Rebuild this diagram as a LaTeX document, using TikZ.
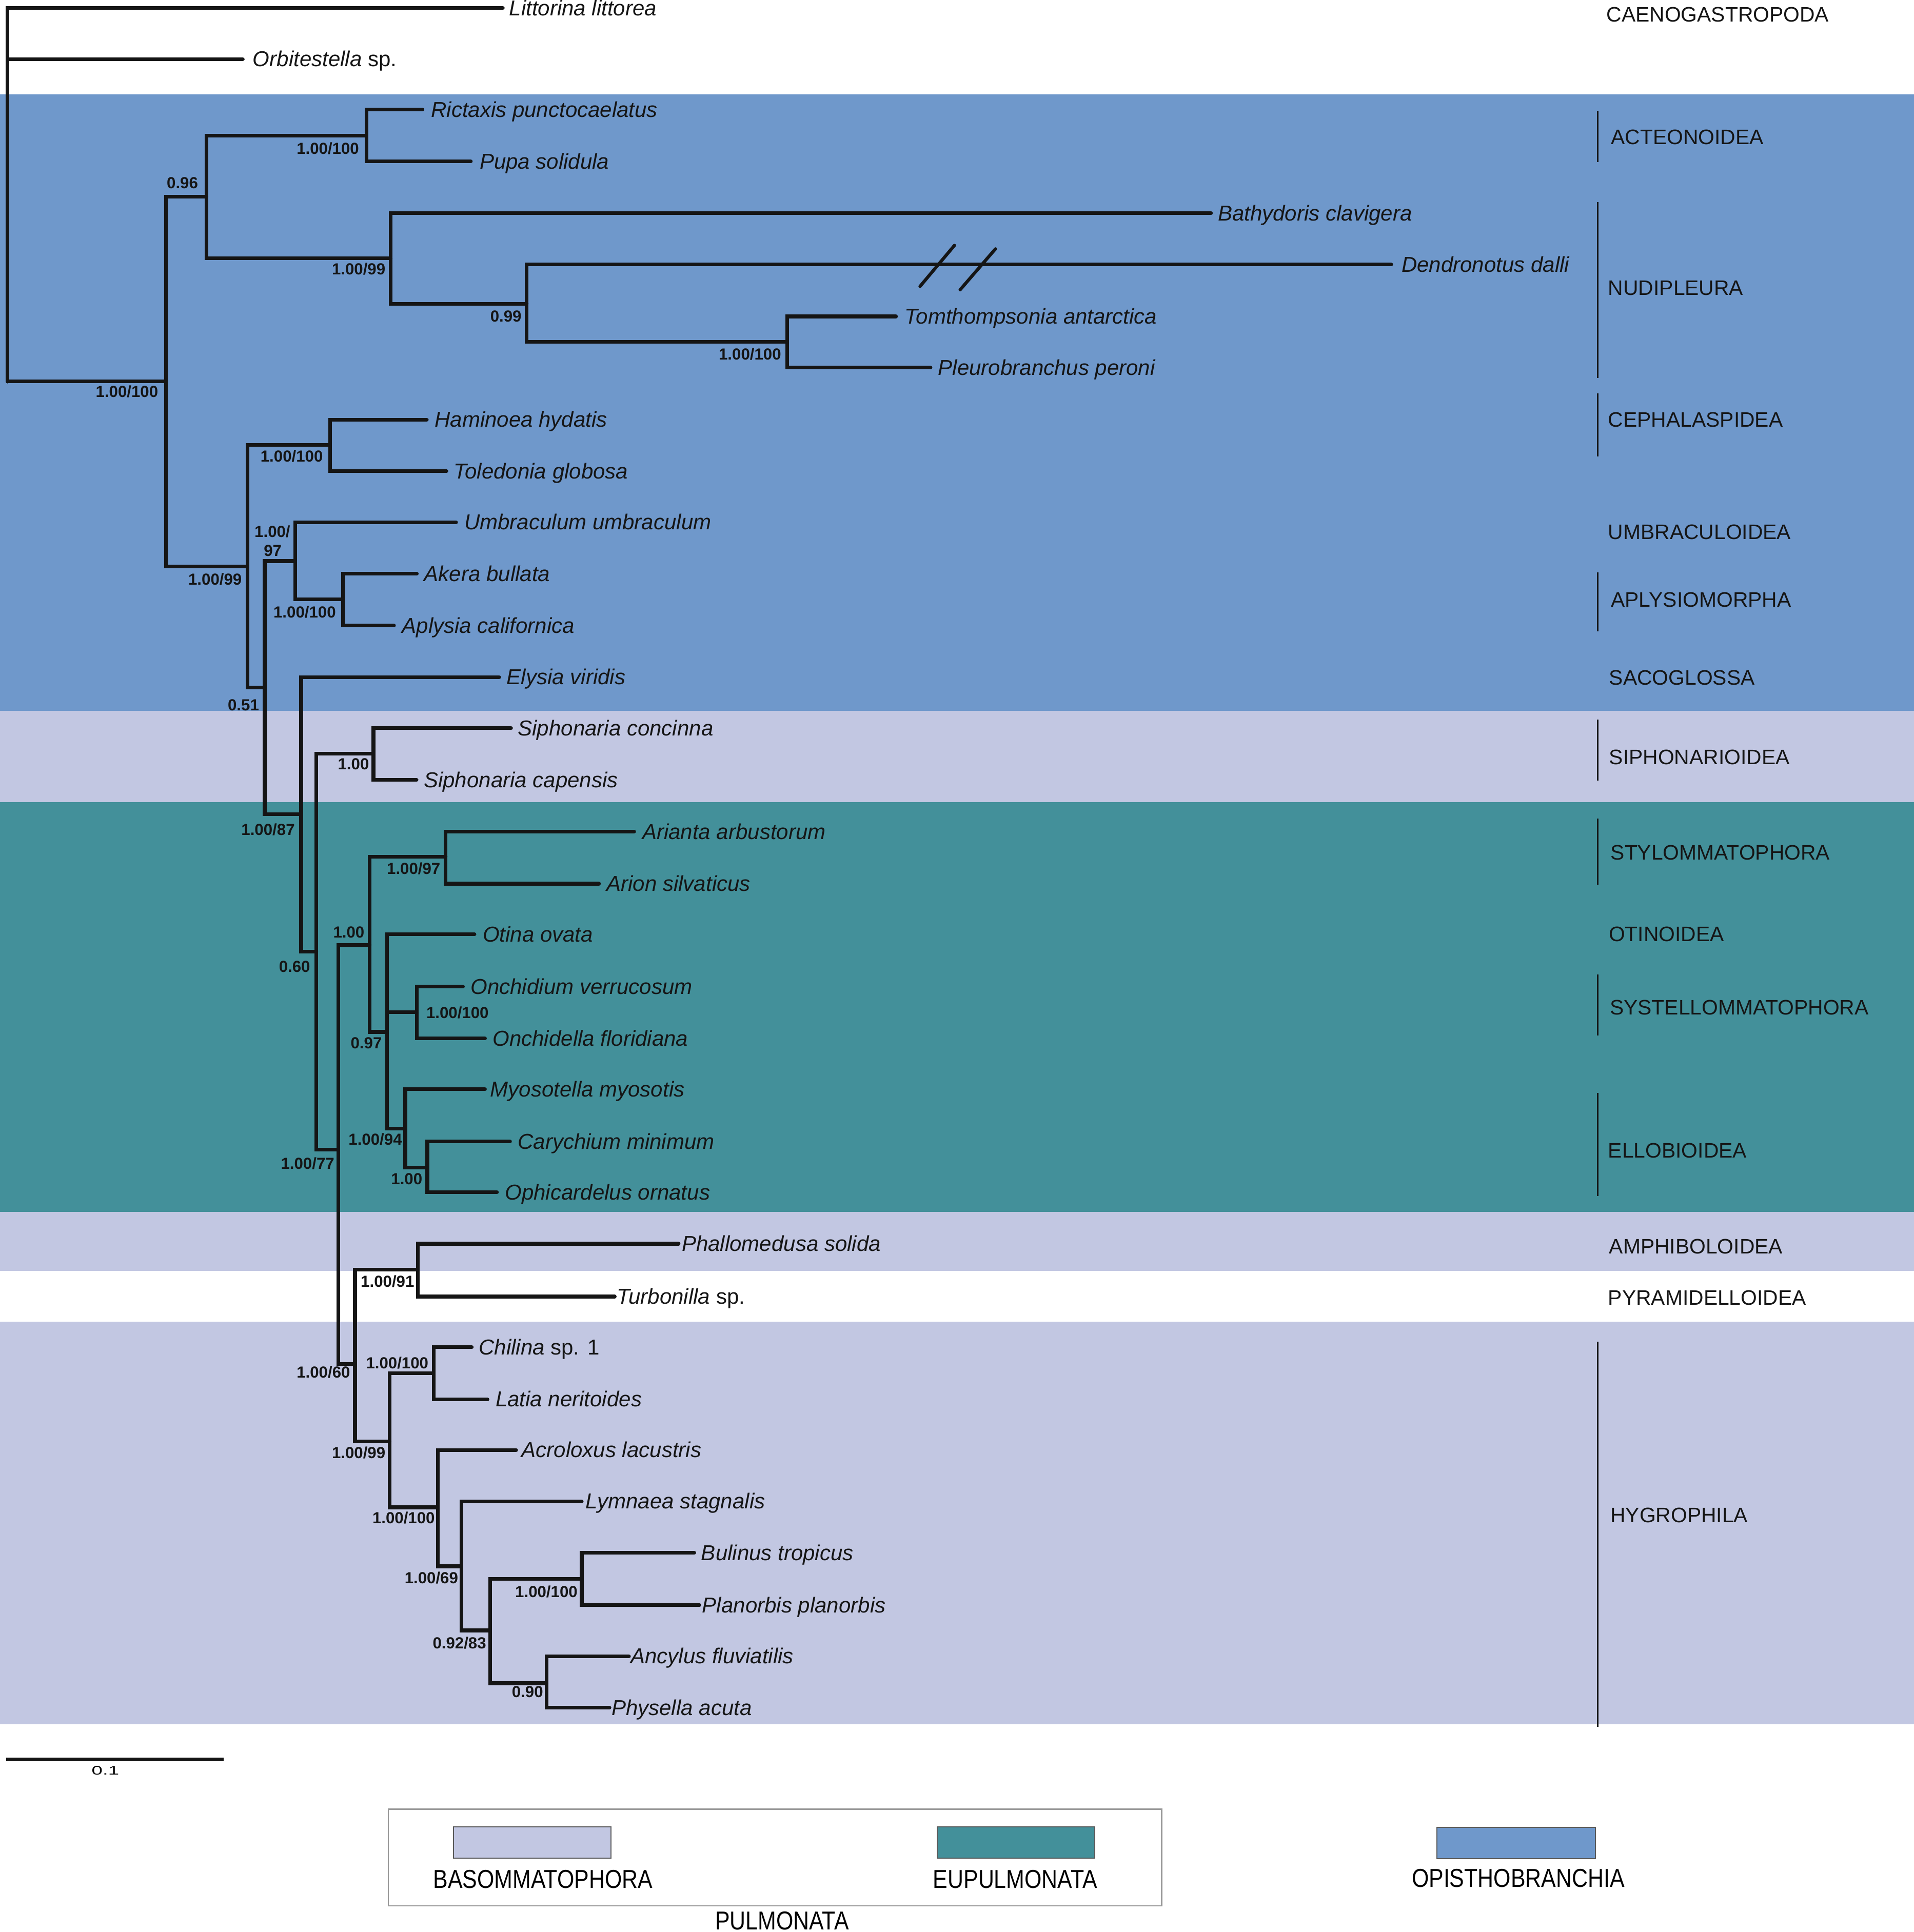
\documentclass[tikz,border=0pt]{standalone}
\usepackage{fontspec}
\usepackage{graphicx}
\setmainfont{Liberation Sans}
\newfontfamily\legfont[FakeStretch=0.85]{Liberation Sans}
\definecolor{opisblue}{HTML}{6F98CB}
\definecolor{eupteal}{HTML}{43909A}
\definecolor{basolav}{HTML}{C2C7E2}
\definecolor{treeblack}{HTML}{151515}
\begin{document}
\begin{tikzpicture}[x=1pt,y=-1pt,
  br/.style={line width=3pt,draw=treeblack,line cap=round,line join=miter},
  spn/.style={anchor=base west,inner sep=0pt,text=treeblack,font=\fontsize{17.5}{18}\selectfont\itshape},
  suppval/.style={anchor=center,inner sep=0pt,text=treeblack,font=\fontsize{13}{13}\selectfont\bfseries},
  cladelab/.style={anchor=base west,inner sep=0pt,text=treeblack,font=\fontsize{17}{18}\selectfont},
  bracket/.style={line width=1.6pt,draw=treeblack},
  leglab/.style={anchor=base,inner sep=0pt,text=black,font=\fontsize{21}{22}\legfont},
  swatch/.style={draw=gray!70!black,line width=0.8pt}]
\useasboundingbox (0,0) rectangle (1553,1568);
\fill[white] (0,0) rectangle (1553,1568);
% bands
\fill[opisblue] (0,76.5) rectangle (1553,577);
\fill[basolav] (0,577) rectangle (1553,651);
\fill[eupteal] (0,651) rectangle (1553,983.5);
\fill[basolav] (0,983.5) rectangle (1553,1031.5);
\fill[basolav] (0,1072.5) rectangle (1553,1399.5);

% internal nodes
\coordinate (root) at (6.2,309.6);
\coordinate (nA) at (134.5,309.6);
\coordinate (nB) at (167.5,159.5);
\coordinate (nC) at (297.3,110);
\coordinate (nD) at (317,209.6);
\coordinate (nE) at (427.4,246.5);
\coordinate (nF) at (638.6,277.5);
\coordinate (nG) at (200.7,459.7);
\coordinate (nH) at (267.7,361);
\coordinate (nI) at (214.8,558);
\coordinate (nJ) at (239.4,455.4);
\coordinate (nK) at (278.5,486.5);
\coordinate (nL) at (244.3,660.9);
\coordinate (nM) at (256.6,772.4);
\coordinate (nN) at (303,611.7);
\coordinate (nO) at (274.4,933);
\coordinate (nP) at (300,767);
\coordinate (nQ) at (361.6,695.3);
\coordinate (nR) at (314,837.5);
\coordinate (nS) at (338.2,821.5);
\coordinate (nT) at (328.8,915.8);
\coordinate (nU) at (346.7,947.7);
\coordinate (nV) at (288,1107);
\coordinate (nW) at (339,1030.5);
\coordinate (nX) at (316.1,1170);
\coordinate (nY) at (351.8,1114.5);
\coordinate (nZ) at (355.2,1223.3);
\coordinate (nAA) at (374.3,1271.2);
\coordinate (nAB) at (397.6,1323.2);
\coordinate (nAC) at (472,1281.3);
\coordinate (nAD) at (443.5,1366.1);

% leaf tips
\coordinate (tLit) at (408,6.5);
\coordinate (tOrb) at (197,48);
\coordinate (tRic) at (342.7,89);
\coordinate (tPup) at (382,131);
\coordinate (tBat) at (982.6,173);
\coordinate (tDen) at (1128.8,214.7);
\coordinate (tTom) at (727,256.8);
\coordinate (tPle) at (755,298.4);
\coordinate (tHam) at (346.3,340.6);
\coordinate (tTol) at (362.2,382.4);
\coordinate (tUmb) at (370,423.8);
\coordinate (tAke) at (338.2,465.7);
\coordinate (tApl) at (319.6,507.7);
\coordinate (tEly) at (405,549.5);
\coordinate (tSco) at (414.7,591);
\coordinate (tSca) at (338,633);
\coordinate (tAri) at (514.5,675);
\coordinate (tAro) at (486,717.2);
\coordinate (tOti) at (385,758.3);
\coordinate (tOnv) at (375.6,800.8);
\coordinate (tOnf) at (393.5,842.8);
\coordinate (tMyo) at (393.5,884);
\coordinate (tCar) at (413.8,926.4);
\coordinate (tOph) at (403.2,967.6);
\coordinate (tPha) at (550.6,1009.4);
\coordinate (tTur) at (498.8,1052.3);
\coordinate (tChi) at (382.8,1093.4);
\coordinate (tLat) at (395.5,1135.7);
\coordinate (tAcr) at (418.8,1176.8);
\coordinate (tLym) at (472,1218.4);
\coordinate (tBul) at (563.3,1260.3);
\coordinate (tPla) at (567.5,1302.7);
\coordinate (tAnc) at (510.3,1344.2);
\coordinate (tPhy) at (494.5,1386);

% branches
\draw[br] (root) |- (tLit);
\draw[br] (root) |- (tOrb);
\draw[br] (root) |- (nA);
\draw[br] (nA) |- (nB);
\draw[br] (nA) |- (nG);
\draw[br] (nB) |- (nC);
\draw[br] (nB) |- (nD);
\draw[br] (nC) |- (tRic);
\draw[br] (nC) |- (tPup);
\draw[br] (nD) |- (tBat);
\draw[br] (nD) |- (nE);
\draw[br] (nE) |- (tDen);
\draw[br] (nE) |- (nF);
\draw[br] (nF) |- (tTom);
\draw[br] (nF) |- (tPle);
\draw[br] (nG) |- (nH);
\draw[br] (nG) |- (nI);
\draw[br] (nH) |- (tHam);
\draw[br] (nH) |- (tTol);
\draw[br] (nI) |- (nJ);
\draw[br] (nI) |- (nL);
\draw[br] (nJ) |- (tUmb);
\draw[br] (nJ) |- (nK);
\draw[br] (nK) |- (tAke);
\draw[br] (nK) |- (tApl);
\draw[br] (nL) |- (tEly);
\draw[br] (nL) |- (nM);
\draw[br] (nM) |- (nN);
\draw[br] (nM) |- (nO);
\draw[br] (nN) |- (tSco);
\draw[br] (nN) |- (tSca);
\draw[br] (nO) |- (nP);
\draw[br] (nO) |- (nV);
\draw[br] (nP) |- (nQ);
\draw[br] (nP) |- (nR);
\draw[br] (nQ) |- (tAri);
\draw[br] (nQ) |- (tAro);
\draw[br] (nR) |- (tOti);
\draw[br] (nR) |- (nS);
\draw[br] (nR) |- (nT);
\draw[br] (nS) |- (tOnv);
\draw[br] (nS) |- (tOnf);
\draw[br] (nT) |- (tMyo);
\draw[br] (nT) |- (nU);
\draw[br] (nU) |- (tCar);
\draw[br] (nU) |- (tOph);
\draw[br] (nV) |- (nW);
\draw[br] (nV) |- (nX);
\draw[br] (nW) |- (tPha);
\draw[br] (nW) |- (tTur);
\draw[br] (nX) |- (nY);
\draw[br] (nX) |- (nZ);
\draw[br] (nY) |- (tChi);
\draw[br] (nY) |- (tLat);
\draw[br] (nZ) |- (tAcr);
\draw[br] (nZ) |- (nAA);
\draw[br] (nAA) |- (tLym);
\draw[br] (nAA) |- (nAB);
\draw[br] (nAB) |- (nAC);
\draw[br] (nAB) |- (nAD);
\draw[br] (nAC) |- (tBul);
\draw[br] (nAC) |- (tPla);
\draw[br] (nAD) |- (tAnc);
\draw[br] (nAD) |- (tPhy);

% break marks on Dendronotus branch
\draw[line width=2.6pt,draw=treeblack,line cap=round] (746.5,232.4) -- (774.4,199.2);
\draw[line width=2.6pt,draw=treeblack,line cap=round] (779,235.2) -- (807.7,202);

% species names
\node[spn] (Lit) at (413,12.5) {Littorina littorea};
\node[spn] (Orb) at (205,54) {Orbitestella \upshape sp.};
\node[spn] (Ric) at (349.6,95) {Rictaxis punctocaelatus};
\node[spn] (Pup) at (389,137) {Pupa solidula};
\node[spn] (Bat) at (988,179) {Bathydoris clavigera};
\node[spn] (Den) at (1137,220.7) {Dendronotus dalli};
\node[spn] (Tom) at (734,262.8) {Tomthompsonia antarctica};
\node[spn] (Ple) at (761,304.4) {Pleurobranchus peroni};
\node[spn] (Ham) at (352.5,346.6) {Haminoea hydatis};
\node[spn] (Tol) at (368,388.4) {Toledonia globosa};
\node[spn] (Umb) at (376.6,429.8) {Umbraculum umbraculum};
\node[spn] (Ake) at (344,471.7) {Akera bullata};
\node[spn] (Apl) at (326,513.7) {Aplysia californica};
\node[spn] (Ely) at (411,555.5) {Elysia viridis};
\node[spn] (Sco) at (420,597) {Siphonaria concinna};
\node[spn] (Sca) at (343.7,639) {Siphonaria capensis};
\node[spn] (Ari) at (521,681) {Arianta arbustorum};
\node[spn] (Aro) at (492,723.2) {Arion silvaticus};
\node[spn] (Oti) at (391.5,764.3) {Otina ovata};
\node[spn] (Onv) at (381.7,806.8) {Onchidium verrucosum};
\node[spn] (Onf) at (399.6,848.8) {Onchidella floridiana};
\node[spn] (Myo) at (397.7,890) {Myosotella myosotis};
\node[spn] (Car) at (420,932.4) {Carychium minimum};
\node[spn] (Oph) at (409.6,973.6) {Ophicardelus ornatus};
\node[spn] (Pha) at (553,1015.4) {Phallomedusa solida};
\node[spn] (Tur) at (500.5,1058.3) {Turbonilla \upshape sp.};
\node[spn] (Chi) at (388.3,1099.4) {Chilina \upshape sp. 1};
\node[spn] (Lat) at (401.9,1141.7) {Latia neritoides};
\node[spn] (Acr) at (423,1182.8) {Acroloxus lacustris};
\node[spn] (Lym) at (475,1224.4) {Lymnaea stagnalis};
\node[spn] (Bul) at (568.8,1266.3) {Bulinus tropicus};
\node[spn] (Pla) at (569.6,1308.7) {Planorbis planorbis};
\node[spn] (Anc) at (511.5,1350.2) {Ancylus fluviatilis};
\node[spn] (Phy) at (496,1392) {Physella acuta};

% support values
\node[suppval] (s1) at (103,318) {1.00/100};
\node[suppval] (s2) at (148,148.7) {0.96};
\node[suppval] (s3) at (266,120.7) {1.00/100};
\node[suppval] (s4) at (291,218.5) {1.00/99};
\node[suppval] (s5) at (410.5,256.8) {0.99};
\node[suppval] (s6) at (608.5,287.3) {1.00/100};
\node[suppval] (s7) at (174.5,470) {1.00/99};
\node[suppval] (s8) at (236.7,370.3) {1.00/100};
\node[suppval] (s9) at (221,431.6) {1.00/};
\node[suppval] (s10) at (221.3,447) {97};
\node[suppval] (s11) at (247.2,496.7) {1.00/100};
\node[suppval] (s12) at (197.5,572.2) {0.51};
\node[suppval] (s13) at (217.5,673.3) {1.00/87};
\node[suppval] (s14) at (286.8,620.2) {1.00};
\node[suppval] (s15) at (239,784.4) {0.60};
\node[suppval] (s16) at (249.6,944.2) {1.00/77};
\node[suppval] (s17) at (283,756.5) {1.00};
\node[suppval] (s18) at (335.6,704.7) {1.00/97};
\node[suppval] (s19) at (297.2,846.7) {0.97};
\node[suppval] (s20) at (371.2,822) {1.00/100};
\node[suppval] (s21) at (304.5,924.6) {1.00/94};
\node[suppval] (s22) at (330,957) {1.00};
\node[suppval] (s23) at (314.4,1040) {1.00/91};
\node[suppval] (s24) at (262.4,1113.5) {1.00/60};
\node[suppval] (s25) at (291,1179) {1.00/99};
\node[suppval] (s26) at (322.3,1106.2) {1.00/100};
\node[suppval] (s27) at (327.5,1232) {1.00/100};
\node[suppval] (s28) at (350,1280.7) {1.00/69};
\node[suppval] (s29) at (372.8,1333.3) {0.92/83};
\node[suppval] (s30) at (443.3,1291.7) {1.00/100};
\node[suppval] (s31) at (428,1373.2) {0.90};

% clade brackets
\coordinate (bActT) at (1296.4,89.9);   \coordinate (bActB) at (1296.4,131.5);
\coordinate (bNudT) at (1296.4,164);    \coordinate (bNudB) at (1296.4,306.7);
\coordinate (bCepT) at (1296.4,319.3);  \coordinate (bCepB) at (1296.4,370.5);
\coordinate (bAplT) at (1296.4,464.6);  \coordinate (bAplB) at (1296.4,512.4);
\coordinate (bSipT) at (1296.4,584);    \coordinate (bSipB) at (1296.4,633.4);
\coordinate (bStyT) at (1296.4,664.4);  \coordinate (bStyB) at (1296.4,718);
\coordinate (bSysT) at (1296.4,790.9);  \coordinate (bSysB) at (1296.4,840.4);
\coordinate (bEllT) at (1296.4,887.2);  \coordinate (bEllB) at (1296.4,970.5);
\coordinate (bHygT) at (1296.4,1088.8); \coordinate (bHygB) at (1296.4,1401.4);
\draw[bracket] (bActT) -- (bActB);
\draw[bracket] (bNudT) -- (bNudB);
\draw[bracket] (bCepT) -- (bCepB);
\draw[bracket] (bAplT) -- (bAplB);
\draw[bracket] (bSipT) -- (bSipB);
\draw[bracket] (bStyT) -- (bStyB);
\draw[bracket] (bSysT) -- (bSysB);
\draw[bracket] (bEllT) -- (bEllB);
\draw[bracket] (bHygT) -- (bHygB);

% clade labels
\node[cladelab] (cCae) at (1303.3,17.6) {CAENOGASTROPODA};
\node[cladelab] (cAct) at (1307,117) {ACTEONOIDEA};
\node[cladelab] (cNud) at (1304.7,239.4) {NUDIPLEURA};
\node[cladelab] (cCep) at (1304.7,346.4) {CEPHALASPIDEA};
\node[cladelab] (cUmb) at (1304.7,437.7) {UMBRACULOIDEA};
\node[cladelab] (cApl) at (1307,492.7) {APLYSIOMORPHA};
\node[cladelab] (cSac) at (1305.5,555.8) {SACOGLOSSA};
\node[cladelab] (cSip) at (1305.5,620.3) {SIPHONARIOIDEA};
\node[cladelab] (cSty) at (1306.7,697.8) {STYLOMMATOPHORA};
\node[cladelab] (cOti) at (1305.2,764.1) {OTINOIDEA};
\node[cladelab] (cSys) at (1306,823.7) {SYSTELLOMMATOPHORA};
\node[cladelab] (cEll) at (1304.7,939.8) {ELLOBIOIDEA};
\node[cladelab] (cAmp) at (1305.5,1017.4) {AMPHIBOLOIDEA};
\node[cladelab] (cPyr) at (1304.7,1059.1) {PYRAMIDELLOIDEA};
\node[cladelab] (cHyg) at (1306.5,1235.6) {HYGROPHILA};

% scale bar
\coordinate (scA) at (5,1428);
\coordinate (scB) at (181.4,1428);
\draw[line width=3pt,draw=treeblack] (scA) -- (scB);
\node[inner sep=0pt] (scl) at (85.5,1437) {\scalebox{1.6}[1]{\fontsize{10}{10}\selectfont 0.1}};

% legend
\draw[draw=gray!80,line width=1pt] (315,1468.3) rectangle (942.6,1546.8);
\draw[swatch,fill=basolav] (367.8,1482.5) rectangle (495.6,1507.9);
\draw[swatch,fill=eupteal] (760.3,1482.5) rectangle (888.2,1507.9);
\draw[swatch,fill=opisblue] (1165.8,1483) rectangle (1294.6,1508.6);
\node[leglab] (lBas) at (440.5,1532.5) {BASOMMATOPHORA};
\node[leglab] (lEup) at (823.7,1532.5) {EUPULMONATA};
\node[leglab] (lOpi) at (1231.8,1531.5) {OPISTHOBRANCHIA};
\node[leglab] (lPul) at (634.5,1566) {PULMONATA};
\end{tikzpicture}
\end{document}
